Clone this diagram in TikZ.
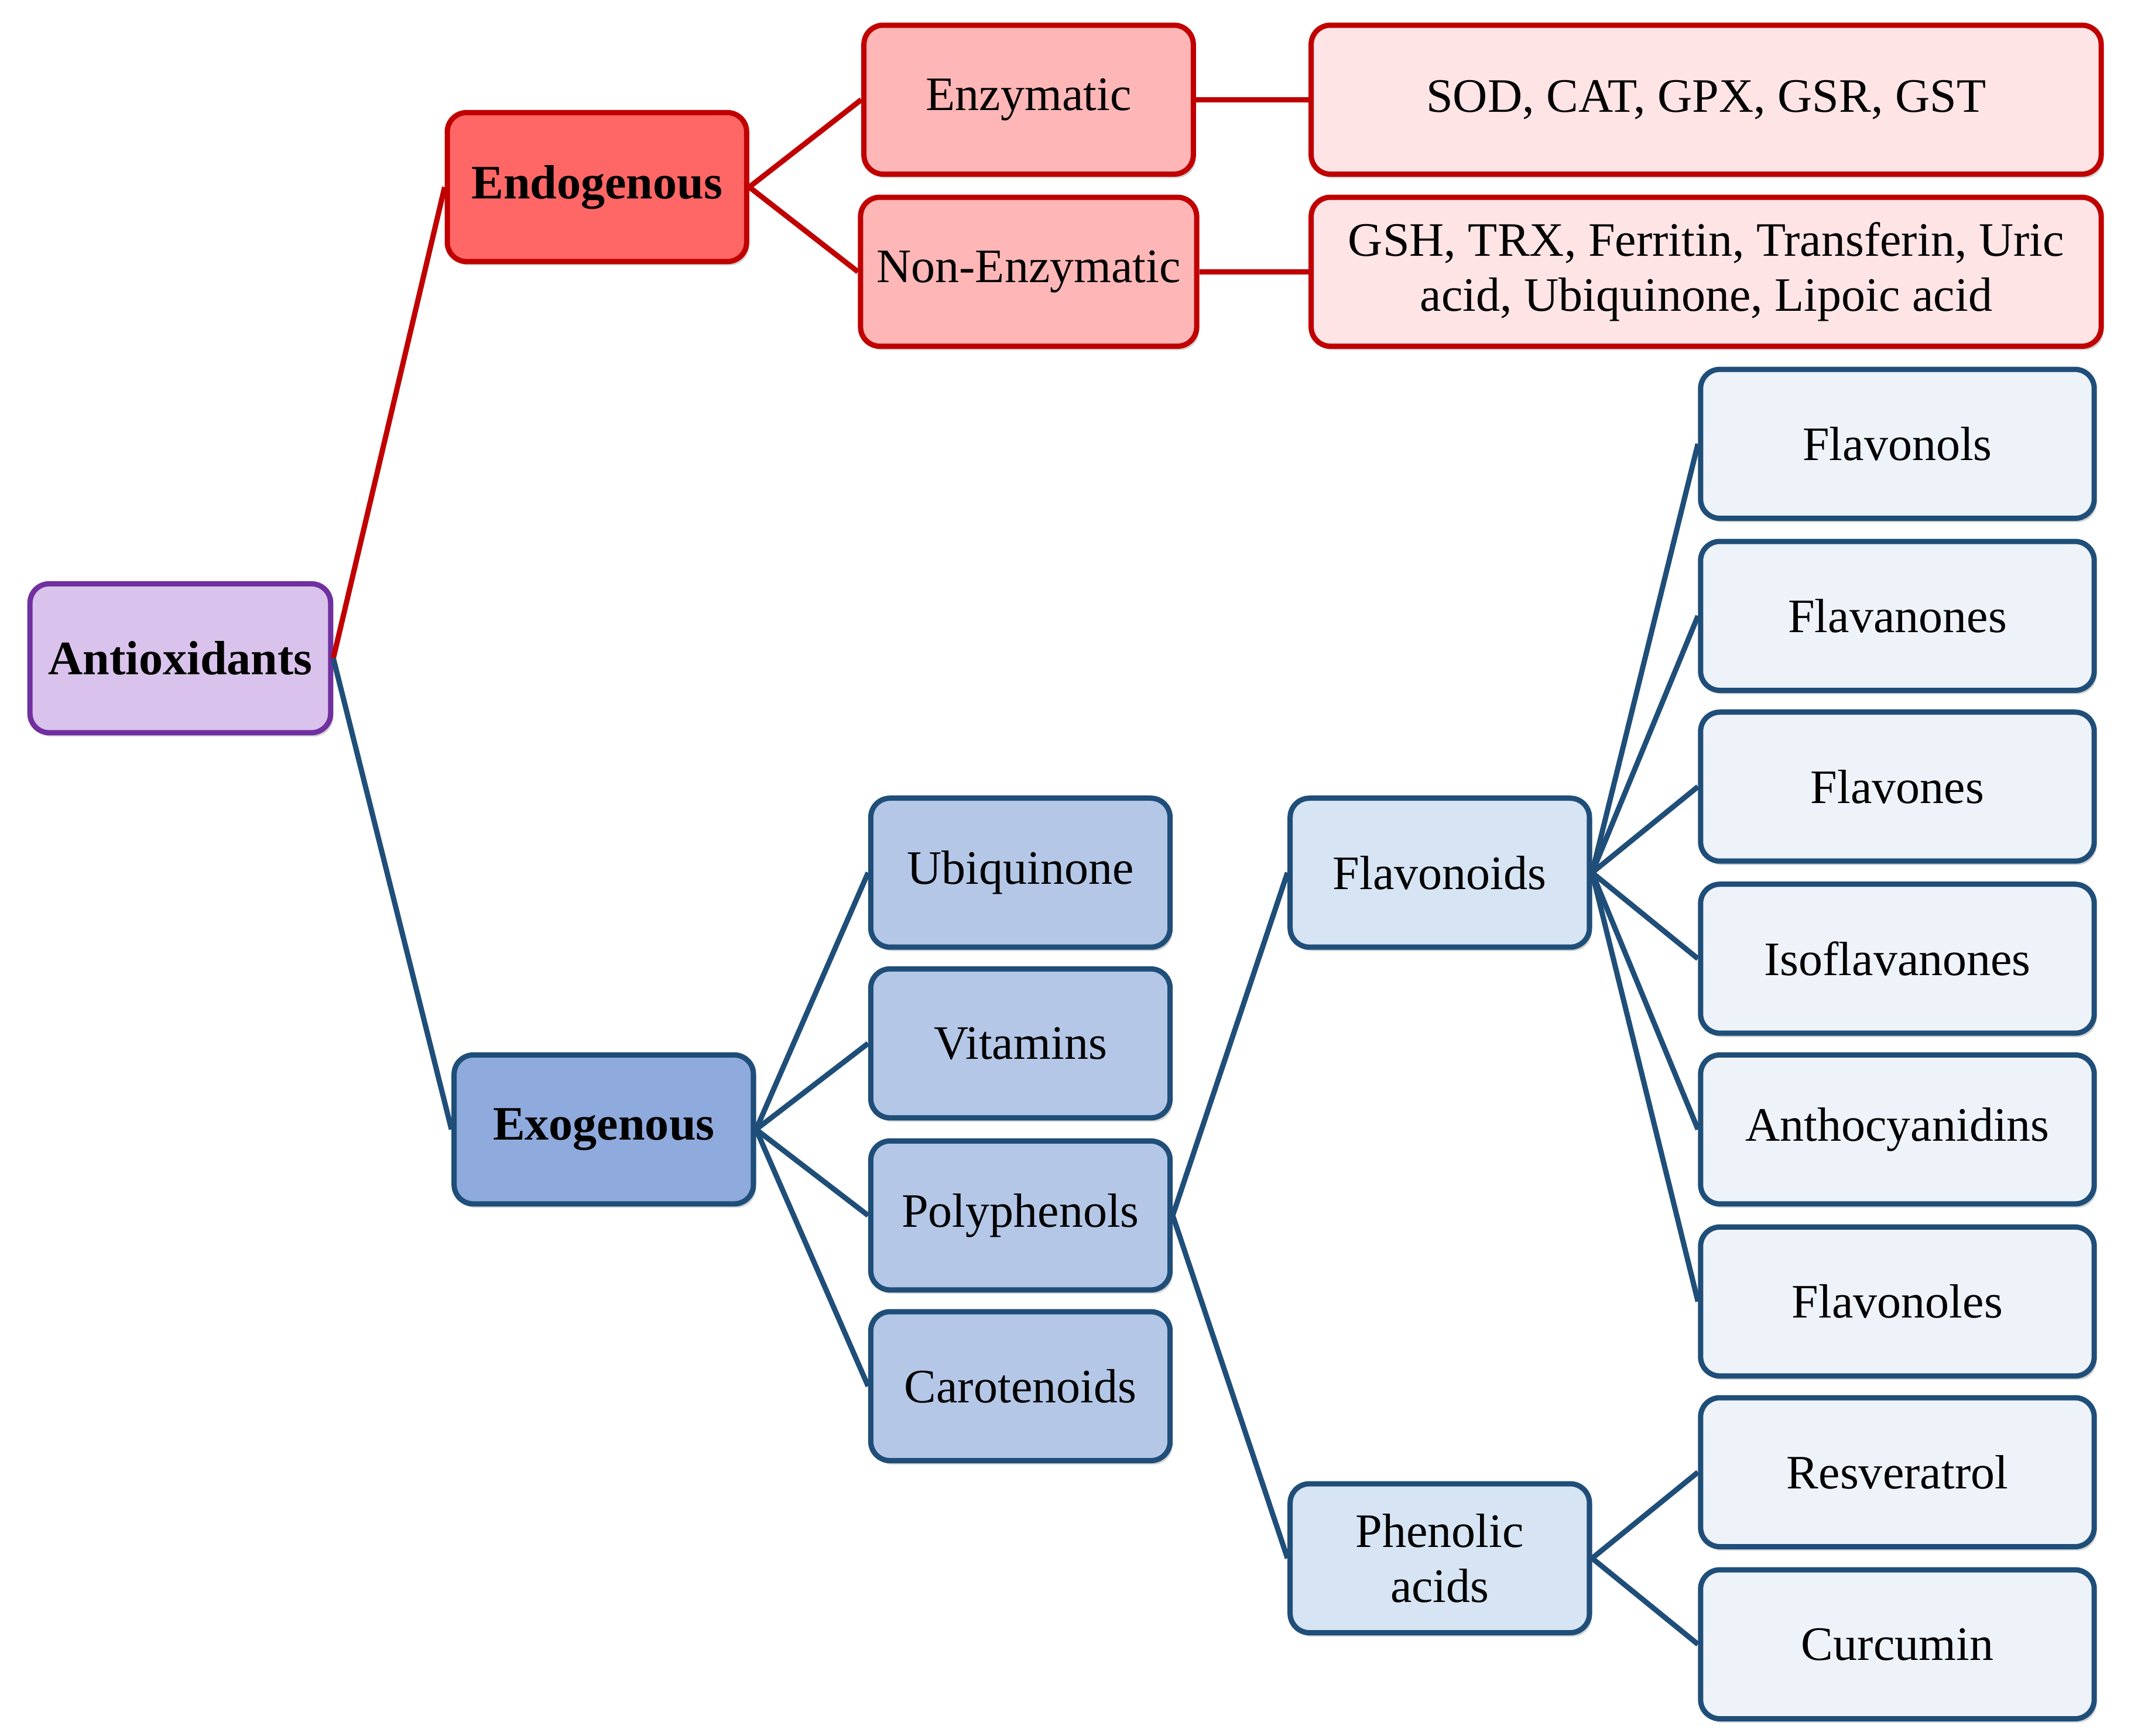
\documentclass[tikz,border=0pt]{standalone}
\usepackage{fontspec}
\setmainfont{Liberation Serif}
\usetikzlibrary{shadows}
\definecolor{rb}{HTML}{C00000}
\definecolor{bb}{HTML}{1F4E79}
\definecolor{pb}{HTML}{7030A0}
\tikzset{
 box/.style={draw, line width=1.1pt, rounded corners=4pt, minimum height=1.09cm, align=center, font=\fontsize{10}{11.5}\selectfont, drop shadow={shadow xshift=0.5pt, shadow yshift=-0.8pt, opacity=0.35}},
 red/.style={box, draw=rb},
 blue/.style={box, draw=bb},
 rl/.style={draw=rb, line width=1.1pt},
 bl/.style={draw=bb, line width=1.1pt},
}
\begin{document}
\begin{tikzpicture}[x=0.01cm,y=-0.01cm]
\useasboundingbox (0,0) rectangle (1560,1271);
\node[box, draw=pb, fill={rgb,255:red,217;green,195;blue,236}, minimum width=2.2cm, font=\bfseries\fontsize{10}{11.5}\selectfont] (ant) at (132,482) {Antioxidants};
\node[red, fill={rgb,255:red,255;green,102;blue,102}, minimum width=2.19cm, font=\bfseries\fontsize{10}{11.5}\selectfont] (endo) at (437,137) {Endogenous};
\node[blue, fill={rgb,255:red,143;green,170;blue,220}, minimum width=2.19cm, font=\bfseries\fontsize{10}{11.5}\selectfont] (exo) at (442,827) {Exogenous};
\node[red, fill={rgb,255:red,255;green,182;blue,182}, minimum width=2.41cm] (enz) at (753,73) {Enzymatic};
\node[red, fill={rgb,255:red,255;green,182;blue,182}, minimum width=2.41cm] (nenz) at (753,199) {Non-Enzymatic};
\node[red, fill={rgb,255:red,255;green,228;blue,230}, minimum width=5.78cm] (sod) at (1249,73) {SOD, CAT, GPX, GSR, GST};
\node[red, fill={rgb,255:red,255;green,228;blue,230}, minimum width=5.78cm] (gsh) at (1249,199) {GSH, TRX, Ferritin, Transferin, Uric\\acid, Ubiquinone, Lipoic acid};
\foreach \n/\t/\y in {ubi/Ubiquinone/639, vit/Vitamins/764, poly/Polyphenols/890, car/Carotenoids/1015}
  \node[blue, fill={rgb,255:red,180;green,199;blue,231}, minimum width=2.19cm] (\n) at (747,\y) {\t};
\node[blue, fill={rgb,255:red,214;green,228;blue,243}, minimum width=2.19cm] (flav) at (1054,639) {Flavonoids};
\node[blue, fill={rgb,255:red,214;green,228;blue,243}, minimum width=2.19cm] (phen) at (1054,1141) {Phenolic\\acids};
\foreach \n/\t/\y in {f1/Flavonols/325, f2/Flavanones/451, f3/Flavones/576, f4/Isoflavanones/702, f5/Anthocyanidins/827, f6/Flavonoles/953, p1/Resveratrol/1078, p2/Curcumin/1204}
  \node[blue, fill={rgb,255:red,238;green,243;blue,250}, minimum width=2.88cm] (\n) at (1389,\y) {\t};
\draw[rl] (ant.east) -- (endo.west);
\draw[bl] (ant.east) -- (exo.west);
\draw[rl] (endo.east) -- (enz.west);
\draw[rl] (endo.east) -- (nenz.west);
\draw[rl] (enz.east) -- (sod.west);
\draw[rl] (nenz.east) -- (gsh.west);
\foreach \c in {ubi,vit,poly,car} \draw[bl] (exo.east) -- (\c.west);
\draw[bl] (poly.east) -- (flav.west);
\draw[bl] (poly.east) -- (phen.west);
\foreach \c in {f1,f2,f3,f4,f5,f6} \draw[bl] (flav.east) -- (\c.west);
\foreach \c in {p1,p2} \draw[bl] (phen.east) -- (\c.west);
\end{tikzpicture}
\end{document}
